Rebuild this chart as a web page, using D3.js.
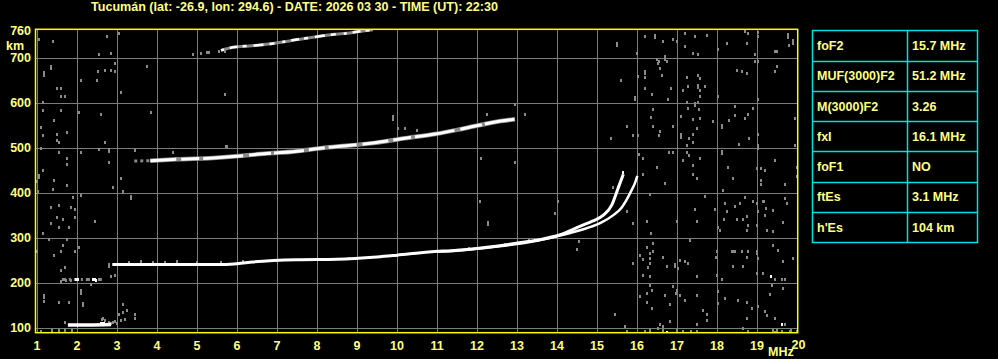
<!DOCTYPE html>
<html><head><meta charset="utf-8">
<script src="https://cdn.jsdelivr.net/npm/d3@7/dist/d3.min.js"></script>
<style>
body{margin:0;background:#000;overflow:hidden}
svg{display:block}
text{font-family:"Liberation Sans",Arial,sans-serif;font-weight:bold}
</style>
</head><body><svg id="c" width="998" height="359"></svg>
<script>
const title = "Tucumán (lat: -26.9, lon: 294.6) - DATE: 2026 03 30 - TIME (UT): 22:30";
const xTicks = [1,2,3,4,5,6,7,8,9,10,11,12,13,14,15,16,17,18,19,20];
const yTicks = [100,200,300,400,500,600,700,760];
const yGrid = [100,200,300,400,500,600,700];
const paramNames = ["foF2","MUF(3000)F2","M(3000)F2","fxI","foF1","ftEs","h'Es"];
const paramValues = ["15.7 MHz","51.2 MHz","3.26","16.1 MHz","NO","3.1 MHz","104 km"];

// traces [MHz, km]
const traceO = [[2.88,240],[3.5,240],[4.5,240],[5.5,240],[6.0,242],[6.4,246],[7.5,251],[8.5,252],[9.5,257],[10.0,261],[10.8,268],[11.5,272],[12.1,277],[13.1,289],[13.6,296],[14.1,307],[14.6,326],[14.9,337],[15.16,350],[15.37,372],[15.53,410],[15.66,441]];
const traceX = [[11.0,269],[11.5,271],[12.5,280],[13.5,293],[14.1,305],[14.6,317],[15.08,332],[15.41,350],[15.62,367],[15.74,384],[15.87,406],[15.95,421],[16.01,437]];
const trace2F = [[3.83,471],[4.5,474],[5.4,477],[5.9,480],[6.5,485],[7.5,492],[8.3,501],[9.4,510],[10.2,521],[11.0,531],[11.7,543],[12.6,559],[12.95,563]];
const trace2Fgray = [[3.43,470],[3.83,471]];
const trace3F = [[5.6,716],[5.9,723],[6.3,726],[6.8,730],[7.1,734],[7.5,740],[7.95,746],[8.35,751],[8.75,754],[9.05,758],[9.4,762]];
const traceEs = [[1.77,106],[2.3,106],[2.85,107]];
const traceEs2 = [[1.62,207],[2.66,207]];
const whiteCells = [[1.98,207],[2.02,207],[2.41,207],[2.45,207],[2.47,205],[2.6,111],[2.64,111],[2.68,111],[15.64,446],[15.53,413],[19.34,214],[19.62,108],[16.74,90]];

const noise = [
[15.49,732],[15.49,727],[16.2,747],[16.45,751],[16.45,745],[16.64,736],[16.89,742],[16.99,736],[17.2,755],[17.45,747],[17.74,751],[18.24,733],[18.7,760],[18.74,733],[18.78,755],[19.03,758],[19.03,747],[19.78,752],[19.78,745],[19.91,733],[19.91,739],[19.81,729],[19.45,715],[19.49,715],[18.95,707],[18.95,692],[18.03,720],[17.53,708],[17.39,710],[17.2,725],[16.7,703],[16.7,697],[16.49,698],[16.56,692],[16.74,692],[15.99,710],
[16.53,688],[16.58,676],[16.2,670],[16.2,665],[16.03,660],[16.2,658],[16.62,662],[15.59,651],[16.85,632],[16.2,632],[16.37,620],[15.95,613],[15.95,608],[16.78,607],[17.24,658],[17.14,629],[17.28,636],[17.53,662],[17.58,655],[17.53,640],[17.53,634],[17.7,638],[17.58,629],[17.58,614],[17.45,599],[17.45,594],[17.53,601],[17.24,601],[18.03,614],[18.49,673],[18.62,670],[18.74,666],[19.03,692],[19.49,681],[19.45,670],[19.03,607],
[16.39,586],[16.35,568],[15.74,549],[16.39,549],[15.91,527],[16.03,527],[16.58,536],[16.56,527],[16.91,549],[17.09,530],[17.09,524],[17.09,570],[17.28,588],[17.39,564],[17.56,586],[17.58,566],[17.49,544],[17.41,530],[17.31,521],[17.39,512],[17.24,505],[17.91,560],[18.12,551],[18.12,546],[18.3,562],[18.45,592],[18.45,572],[18.7,566],[18.78,575],[18.91,588],[19.03,530],[18.56,508],[18.81,521],[19.03,505],[19.03,500],[19.95,566],[19.95,505],[15.35,521],
[16.06,486],[16.14,477],[16.16,441],[16.49,456],[16.7,421],[16.81,490],[16.89,490],[17.26,490],[17.31,484],[17.16,473],[17.41,462],[17.39,441],[17.51,432],[17.58,477],[18.12,493],[18.12,488],[18.28,458],[18.41,432],[18.16,405],[18.99,455],[19.1,455],[19.2,451],[19.1,429],[19.1,419],[19.45,473],[19.7,419],[19.99,458],[19.99,436],[15.39,412],
[16.33,396],[16.35,310],[16.24,338],[15.91,332],[15.74,360],[16.99,338],[17.45,364],[17.49,338],[17.33,294],[17.7,392],[17.95,364],[18.03,324],[18.08,316],[18.2,377],[18.24,360],[18.18,341],[18.45,371],[18.49,341],[18.64,341],[18.58,377],[18.7,390],[18.74,318],[18.78,329],[18.74,349],[18.89,381],[18.99,377],[19.03,360],[19.01,329],[19.14,382],[19.18,382],[19.2,351],[19.24,318],[19.39,315],[19.39,362],[19.64,334],[19.7,387],[19.74,377],[19.22,366],
[16.39,288],[16.24,279],[16.08,262],[16.16,253],[16.33,255],[16.33,266],[16.41,271],[16.64,257],[16.33,244],[16.28,234],[16.33,214],[16.95,241],[16.95,236],[16.74,236],[17.03,232],[17.2,247],[17.28,244],[17.49,214],[17.99,271],[17.98,257],[17.99,218],[18.12,209],[18.37,271],[18.41,271],[18.45,271],[18.62,271],[18.78,271],[18.74,256],[18.41,236],[18.66,236],[18.99,271],[18.99,266],[19.01,221],[19.16,221],[19.03,255],[19.41,284],[19.53,273],[19.64,249],[19.45,209],[19.62,209],[19.7,209],[19.91,255],[17.08,251],[15.91,244],[16.16,216],
[16.33,195],[16.24,177],[16.37,184],[16.08,170],[16.24,157],[16.37,144],[16.7,173],[16.83,152],[16.91,192],[16.98,177],[17.2,162],[17.49,173],[17.66,140],[17.74,130],[17.74,118],[18.03,181],[18.03,155],[18.2,166],[18.53,162],[18.74,158],[18.87,144],[18.74,121],[19.03,147],[19.2,136],[19.24,129],[19.33,175],[19.37,195],[19.64,188],[19.45,121],[19.7,108],[15.45,130],[15.7,103],[16.58,107],[16.66,103],[16.83,114],[17.49,108],[17.08,173],[16.99,184],
[15.74,92],[16.2,92],[16.33,95],[16.53,99],[16.66,95],[16.99,95],[17.16,92],[17.34,92],[17.49,92],[18.66,99],[18.78,93],[19.41,95],[19.45,90],[19.62,92],[19.83,93],[19.99,93],[19.85,95],[19.5,95],
[1.04,742],[1.39,738],[2.74,747],[3.04,755],[2.54,707],[2.85,710],[1.35,681],[1.35,676],[1.18,667],[1.18,662],[2.52,671],[2.71,673],[2.85,673],[2.95,670],[2.95,687],[2.1,651],[2.5,651],[3.75,682],[1.49,632],[1.6,632],[1.6,615],[1.71,615],[3.1,624],[1.14,601],[1.14,584],[1.6,584],[2.04,579],[2.6,575],[3.85,579],[1.43,562],[1.1,545],[1.75,535],[1.14,527],[1.49,530],[1.49,518],[1.54,512],[2.71,512],[1.1,499],[1.54,490],[2.1,490],[2.54,496],[2.79,498],[2.79,493],[3.45,495],[4.39,490],[1.75,477],[1.75,464],[2.79,468],[1.14,451],[1.04,440],[1.04,434],[1.43,429],[1.75,418],[1.39,409],[1.02,403],[2.89,412],[3.1,432],[3.14,404],[3.35,393],[3.35,388],[1.89,390],[2.1,395],[1.35,368],[1.54,373],[1.85,368],[1.96,364],[1.49,346],[1.64,341],[1.96,346],[1.35,332],[1.54,324],[1.79,324],[1.14,310],[2.45,338],[1.29,297],[1.75,297],[2.04,279],[1.64,283],[1.6,271],[1.96,271],[1.43,262],[1.0,271],[1.71,235],[1.6,227],[2.95,218],[2.79,241],[2.79,236],[5.72,504],[4.89,707],[5.1,710],[5.25,712],[5.29,712],[5.54,715],[5.71,715],[5.7,620],[1.0,425],
[1.18,173],[1.18,167],[1.18,160],[1.54,157],[1.79,157],[2.14,155],[2.14,150],[2.1,184],[2.1,178],[3.16,152],[3.24,140],[3.45,130],[3.45,121],[3.04,130],[3.14,135],[2.35,196],[1.38,95],[1.54,95],[1.71,95],[1.87,95],[1.1,92],[1.71,112],
[3.85,580],[4.39,491],[5.74,503],[9.89,570],[9.89,564],[12.24,575],[12.95,597],[13.2,575],[12.09,478],[12.95,469],[10.2,544],[10.03,544],[10.49,539],[12.08,381],[14.03,381],[13.95,355],[12.28,335],[12.28,330],[14.55,293],[14.49,275],[15.74,360],[15.89,333],
[2.62,120],[2.66,122],[2.7,118],[2.8,113],[2.85,110],[2.9,112],[2.95,114],[3.0,110],[3.1,117],[3.2,120],[1.66,209],[1.72,206],[1.85,206],[1.6,204],[2.85,214],
[3.3,246],[3.6,247],[3.9,246],[4.2,246],[4.5,247],[5.0,245],[5.6,245],[6.15,249],[7.0,250],[8.8,255],[9.3,256],[11.8,276],[12.7,285],[13.3,295]
];

const svg = d3.select("#c");
const x = d3.scaleLinear().domain([0.96, 20.02]).range([35.5, 797.7]);
const y = d3.scaleLinear().domain([88.7, 762.9]).range([332.7, 29.3]);
const textCol = "#ffff80";

svg.append("rect").attr("width",998).attr("height",359).attr("fill","#000");

svg.append("defs").append("clipPath").attr("id","clip")
  .append("rect").attr("x",x.range()[0]).attr("y",y.range()[1])
  .attr("width",x.range()[1]-x.range()[0]).attr("height",y.range()[0]-y.range()[1]);

// grid
const g = svg.append("g").attr("clip-path","url(#clip)");
g.selectAll("line.vx").data(xTicks).join("line")
  .attr("x1",d=>Math.round(x(d))+0.5).attr("x2",d=>Math.round(x(d))+0.5)
  .attr("y1",y.range()[1]).attr("y2",y.range()[0])
  .attr("stroke","#7c7c7c").attr("stroke-width",1);
g.selectAll("line.hy").data(yGrid).join("line")
  .attr("y1",d=>Math.round(y(d))+0.5).attr("y2",d=>Math.round(y(d))+0.5)
  .attr("x1",x.range()[0]).attr("x2",x.range()[1])
  .attr("stroke","#7c7c7c").attr("stroke-width",1);

// noise
g.selectAll("rect.n").data(noise).join("rect")
  .attr("x",d=>Math.round(x(d[0]))-1).attr("y",d=>Math.round(y(d[1]))-1)
  .attr("width",2).attr("height",3).attr("fill","#8a8a8a")
  .attr("shape-rendering","crispEdges");

const line = d3.line().x(d=>x(d[0])).y(d=>y(d[1])).curve(d3.curveMonotoneX);

function trace(data, col, w, dash){
  const p = g.append("path").datum(data).attr("d",line)
    .attr("fill","none").attr("stroke",col).attr("stroke-width",w)
    .attr("stroke-linecap","butt");
  if(dash) p.attr("stroke-dasharray",dash);
  return p;
}
// 3rd hop
trace(trace3F,"#8a8a8a",3);
trace(trace3F,"#ffffff",2.5,"3 6 8 5 4 7 10 6 5 8");
// 2nd hop
trace(trace2Fgray,"#8a8a8a",3,"3 3");
trace(trace2F,"#8a8a8a",4.5);
trace(trace2F,"#ffffff",3,"26 5 18 4 40 6 22 3 30 5 16 4 28 6");
// Es
trace(traceEs2,"#8a8a8a",3,"4 3 2 3");
trace(traceEs,"#ffffff",3.5);
// F trace
trace(traceX,"#ffffff",2.5);
trace(traceO,"#ffffff",3);

g.selectAll("rect.w").data(whiteCells).join("rect")
  .attr("x",d=>Math.round(x(d[0]))-1).attr("y",d=>Math.round(y(d[1]))-1)
  .attr("width",2).attr("height",3).attr("fill","#fff");

// frame
svg.append("rect").attr("x",x.range()[0]).attr("y",y.range()[1])
  .attr("width",x.range()[1]-x.range()[0]).attr("height",y.range()[0]-y.range()[1])
  .attr("fill","none").attr("stroke","#ffff00").attr("stroke-width",1.5);

// axis labels
svg.selectAll("text.yt").data(yTicks).join("text")
  .attr("x",31).attr("y",d=>y(d)+4.5).attr("text-anchor","end")
  .attr("fill",textCol).attr("font-size",12.5).text(d=>d);
svg.append("text").attr("x",6).attr("y",49.5).attr("fill",textCol).attr("font-size",12.5).text("km");
svg.selectAll("text.xt").data(xTicks).join("text")
  .attr("x",d=>x(d)+(d===20?1.5:0)).attr("y",d=>d===20?348.5:349.5).attr("text-anchor","middle")
  .attr("fill",textCol).attr("font-size",12.5).text(d=>d);
svg.append("text").attr("x",768).attr("y",356).attr("fill",textCol).attr("font-size",12.5).text("MHz");

// title
svg.append("text").attr("x",91).attr("y",11).attr("fill",textCol).attr("font-size",12.5)
  .attr("textLength",407).attr("lengthAdjust","spacingAndGlyphs").text(title);

// table
const tRows = d3.scaleBand().domain(d3.range(paramNames.length)).range([30.3,242.3]);
const tx0 = 812, tx1 = 907, tx2 = 977;
const tg = svg.append("g");
tg.append("rect").attr("x",tx0+0.5).attr("y",30.5).attr("width",tx2-tx0).attr("height",212)
  .attr("fill","none").attr("stroke","#00e0e0").attr("stroke-width",1.5);
tg.append("line").attr("x1",tx1+0.5).attr("x2",tx1+0.5).attr("y1",30.5).attr("y2",242.5)
  .attr("stroke","#00e0e0").attr("stroke-width",1.5);
tg.selectAll("line.r").data(d3.range(1,paramNames.length)).join("line")
  .attr("x1",tx0).attr("x2",tx2).attr("y1",d=>Math.round(tRows(d))+0.5).attr("y2",d=>Math.round(tRows(d))+0.5)
  .attr("stroke","#00e0e0").attr("stroke-width",1.5);
tg.selectAll("text.pn").data(paramNames).join("text")
  .attr("x",817).attr("y",(d,i)=>tRows(i)+tRows.bandwidth()/2+4.5)
  .attr("fill",textCol).attr("font-size",12.5).text(d=>d);
tg.selectAll("text.pv").data(paramValues).join("text")
  .attr("x",912).attr("y",(d,i)=>tRows(i)+tRows.bandwidth()/2+4.5)
  .attr("fill",textCol).attr("font-size",12.5).text(d=>d);
</script>
</body></html>
